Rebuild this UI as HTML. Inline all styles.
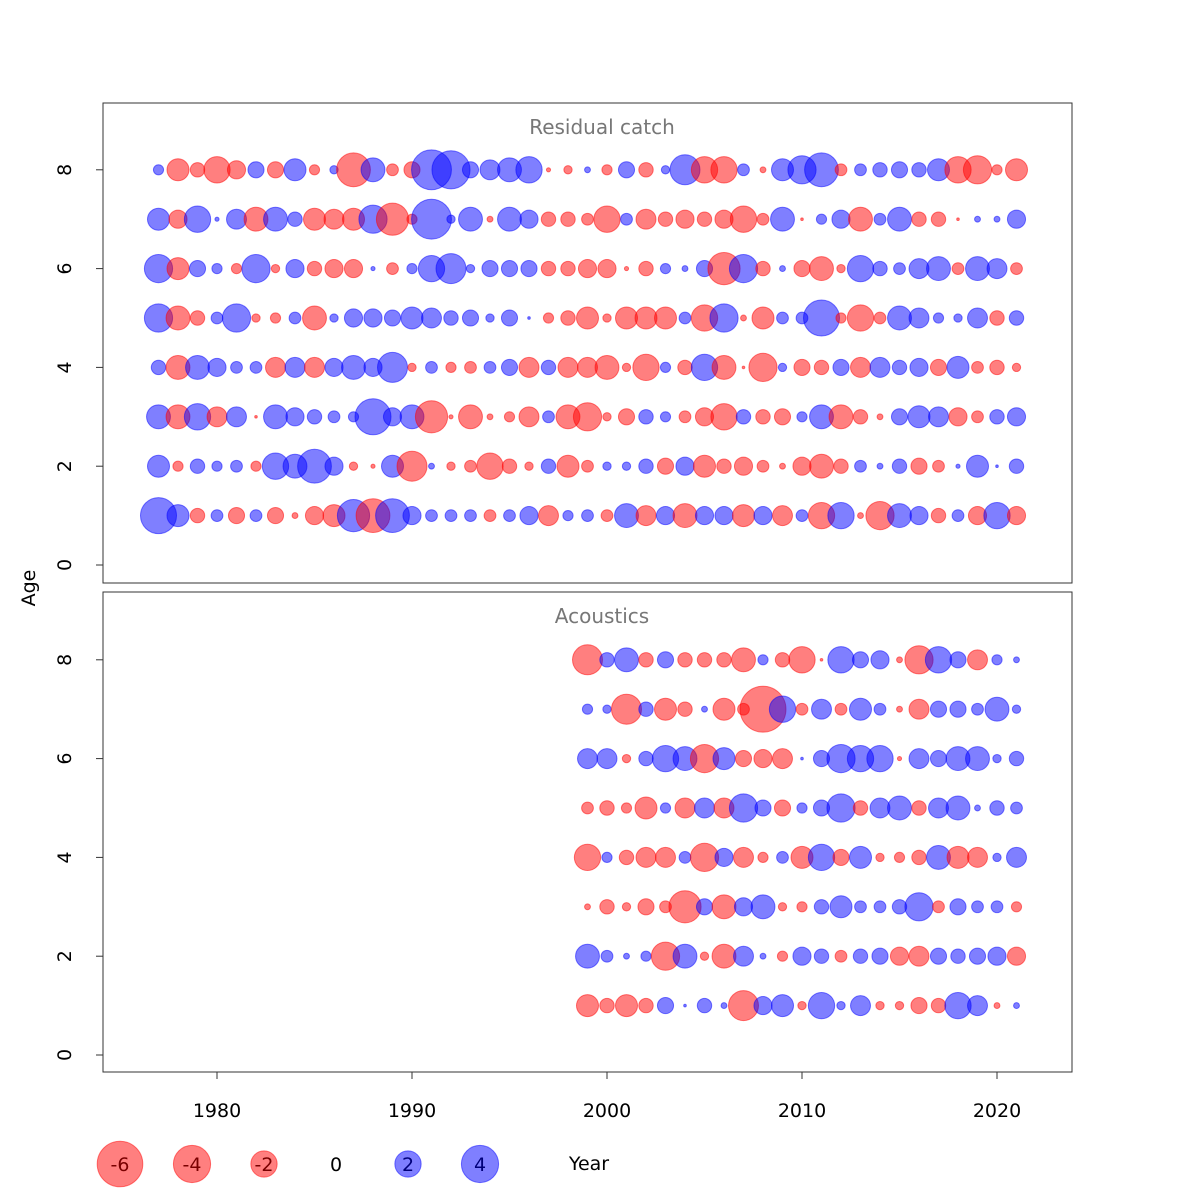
<!DOCTYPE html>
<html><head><meta charset="utf-8">
<style>
html,body{margin:0;padding:0;background:#fff;}
svg{display:block;font-family:"DejaVu Sans","Liberation Sans",sans-serif;}
</style></head>
<body>
<svg id="chart" width="1200" height="1200" viewBox="0 0 1200 1200" xmlns="http://www.w3.org/2000/svg"></svg>
<script>
// ---- data ----
const catchYears = [1977,1978,1979,1980,1981,1982,1983,1984,1985,1986,1987,1988,1989,1990,1991,1992,1993,1994,1995,1996,1997,1998,1999,2000,2001,2002,2003,2004,2005,2006,2007,2008,2009,2010,2011,2012,2013,2014,2015,2016,2017,2018,2019,2020,2021];
const acousticYears = [1999,2000,2001,2002,2003,2004,2005,2006,2007,2008,2009,2010,2011,2012,2013,2014,2015,2016,2017,2018,2019,2020,2021];
const ages = [1,2,3,4,5,6,7,8];
const yTicks = [0,2,4,6,8];
const xTicks = [1980,1990,2000,2010,2020];
const legendValues = [-6,-4,-2,0,2,4];
// catch residuals, one array per age (1..8)
const catchAge1 = [3.75,1.4,-0.6,0.4,-0.75,0.4,-0.75,-0.1,-0.95,-1.4,3,-3.3,3.3,0.95,0.4,0.4,0.4,-0.4,0.4,0.95,-1.15,0.3,0.4,-0.4,1.65,-1.15,0.95,-1.65,0.95,0.95,-1.4,0.95,-1.15,0.4,-2,2,-0.1,-2.3,1.65,0.95,-0.6,0.4,-0.95,2,-0.95];
const catchAge2 = [1.4,-0.3,0.6,0.3,0.4,-0.3,2,1.65,3.3,0.95,-0.2,-0.05,1.4,-2.6,0.1,-0.2,-0.4,-2,-0.6,-0.2,0.6,-1.4,-0.4,0.2,0.2,0.6,-0.75,0.95,-1.4,-0.6,-0.95,-0.4,-0.1,-0.95,-1.65,-0.6,0.4,0.1,0.6,-0.75,-0.4,0.05,1.4,0.02,0.6];
const catchAge3 = [1.65,-1.65,2,-1.15,1.15,-0.02,1.65,0.95,0.6,0.4,0.3,3.75,0.95,1.65,-3,-0.05,-1.65,-0.1,-0.3,-1.15,0.4,-1.65,-2.3,-0.2,-0.75,0.6,0.3,-0.4,-0.95,-2,0.6,-0.6,-0.75,0.3,1.65,-1.65,-0.6,-0.1,0.75,1.4,1.15,-0.95,-0.4,0.6,0.95];
const catchAge4 = [0.6,-1.65,1.65,0.95,0.4,0.4,-1.15,1.15,-1.15,0.95,1.65,0.95,2.6,-0.2,0.4,-0.3,-0.4,0.4,0.75,-1.15,0.6,-1.15,-1.15,-1.65,-0.2,-2,0.3,-0.6,2,-1.65,-0.02,-2.3,0.2,-0.75,-0.6,0.75,-1.15,1.15,0.6,0.95,-0.75,1.4,-0.4,-0.6,-0.2];
const catchAge5 = [2.3,-1.65,-0.6,0.4,2.3,-0.2,-0.3,0.4,-1.65,0.2,0.95,0.95,0.75,1.4,1.15,0.6,0.75,0.2,0.75,0.02,-0.3,-0.6,-1.4,-0.2,-1.4,-1.4,-1.4,0.4,-2,2.3,-0.1,-1.4,0.4,0.4,3.75,-0.3,-2,-0.4,1.65,1.15,0.3,0.2,1.15,-0.6,0.6];
const catchAge6 = [2.3,-1.4,0.75,0.3,-0.3,2.3,-0.2,0.95,-0.6,-0.95,-0.95,0.05,-0.4,0.3,2,2.6,0.2,0.75,0.75,0.75,-0.6,-0.6,-0.95,-0.95,-0.05,-0.6,0.3,0.1,0.75,-3,2.3,-0.6,0.1,-0.75,-1.65,-0.2,2,0.6,0.4,1.15,1.65,-0.4,1.65,1.15,-0.4];
const catchAge7 = [1.4,-0.95,2,0.05,1.15,-1.65,1.65,0.6,-1.4,-1.15,-1.4,2.3,-3,-0.3,4.6,0.2,1.65,-0.1,1.65,0.95,-0.6,-0.6,-0.4,-2,0.4,-1.15,-0.6,-0.95,-0.6,-0.95,-2,-0.4,1.65,-0.02,0.3,0.95,-1.65,0.4,1.65,-0.6,-0.6,-0.02,0.1,0.1,0.95];
const catchAge8 = [0.3,-1.4,-0.6,-2,-0.95,0.75,-0.75,1.4,-0.3,0.2,-3.3,1.65,-0.4,-0.75,4.6,4.2,0.75,1.15,1.65,2,-0.05,-0.2,0.1,-0.3,0.75,-0.6,0.2,2.6,-2,-2,0.4,-0.1,1.4,2.3,3.3,-0.4,0.4,0.6,0.75,0.6,1.4,-2,-2.3,-0.3,-1.4];
// acoustic residuals, one array per age (1..8)
const acAge1 = [-1.4,-0.6,-1.4,-0.6,0.75,0.02,0.6,0.1,-2.6,0.95,1.4,-0.2,2,0.2,1.15,-0.2,-0.2,-0.75,-0.6,2,1.15,-0.1,0.1];
const acAge2 = [1.65,0.4,0.1,0.3,-2.3,1.65,-0.2,-1.65,1.15,0.1,-0.3,0.95,0.6,-0.4,0.6,0.75,-0.95,-1.15,0.75,0.6,0.75,0.95,-0.95];
const acAge3 = [-0.1,-0.6,-0.2,-0.75,-0.4,-3,0.75,-1.65,0.95,1.65,-0.2,-0.3,0.6,1.4,0.4,0.4,0.6,2.3,-0.4,0.75,0.4,0.4,-0.3];
const acAge4 = [-2,0.3,-0.6,-1.15,-1.15,0.4,-2.3,0.95,-1.15,-0.3,0.4,-1.4,2,-0.75,1.4,-0.2,-0.3,-0.6,1.65,-1.4,-1.15,0.2,1.15];
const acAge5 = [-0.4,-0.6,-0.3,-1.4,0.3,-1.15,1.15,-1.15,2.3,0.75,-0.75,0.3,0.75,2.3,-0.6,1.15,1.65,-0.6,1.15,1.65,0.1,0.6,0.4];
const acAge6 = [1.15,1.15,-0.2,0.6,2,1.65,-2.3,1.4,-0.75,-0.95,-1.15,0.02,0.75,2.3,2,2,-0.05,1.15,0.75,1.65,1.65,0.2,0.6];
const acAge7 = [0.3,0.2,-2.6,0.6,-1.4,-0.6,0.1,-1.4,-0.4,-6.1,2,-0.4,1.15,-0.4,1.4,0.4,-0.1,-1.15,0.75,0.75,0.4,1.65,0.2];
const acAge8 = [-2.6,0.6,1.65,-0.6,0.75,-0.6,-0.6,-0.6,-1.65,0.3,-0.6,-2,-0.02,2,0.75,0.95,-0.1,-2.3,2,0.75,-1.15,0.3,0.1];
const catchRows = [catchAge1,catchAge2,catchAge3,catchAge4,catchAge5,catchAge6,catchAge7,catchAge8];
const acRows = [acAge1,acAge2,acAge3,acAge4,acAge5,acAge6,acAge7,acAge8];

// ---- scales ----
const NS = "http://www.w3.org/2000/svg";
const svg = document.getElementById("chart");
function xScale(yr){ return 217 + (yr - 1980) * 19.5; }
function yTop(a){ return 565 - a * 49.4; }
function yBot(a){ return 1055 - a * 49.4; }
function rScale(v){ return 9.3 * Math.sqrt(Math.abs(v)); }
function mk(tag, attrs){
  const e = document.createElementNS(NS, tag);
  for (const k in attrs) e.setAttribute(k, attrs[k]);
  svg.appendChild(e);
  return e;
}
const RED = "rgba(255,0,0,0.5)", BLUE = "rgba(0,0,255,0.5)";

function panel(top, yFn, title, name){
  const box = mk("rect", {x:103, y:top, width:969, height:480, fill:"none", stroke:"#333", "stroke-width":1});
  
  
  const t = mk("text", {x:602, y:top+31, "text-anchor":"middle", "font-size":20, fill:"#777"});
  t.textContent = title;
  
  
  yTicks.forEach(v => {
    const y = yFn(v);
    const tk = mk("line", {x1:96, x2:103, y1:y, y2:y, stroke:"#333"});
    
    
    const lb = mk("text", {x:71, y:y, "text-anchor":"middle", "font-size":19, fill:"#000", transform:`rotate(-90 71 ${y})`});
    lb.textContent = v;
    
    
  });
}
panel(103, yTop, "Residual catch", "catch-panel");
panel(592, yBot, "Acoustics", "acoustics-panel");

function bubbles(years, rows, yFn, name){
  rows.forEach((row, ai) => {
    row.forEach((v, yi) => {
      const c = mk("circle", {cx:xScale(years[yi]), cy:yFn(ages[ai]), r:rScale(v), fill: v < 0 ? RED : BLUE, stroke: v < 0 ? RED : BLUE, "stroke-width":1});
      
      
    });
  });
}
bubbles(catchYears, catchRows, yTop, 'catch-bubble');
bubbles(acousticYears, acRows, yBot, 'acoustic-bubble');

// x axis
const xl = mk("line", {x1:xScale(1980), x2:xScale(2020), y1:1072, y2:1072, stroke:"#333"});


xTicks.forEach(v => {
  const x = xScale(v);
  const tk = mk("line", {x1:x, x2:x, y1:1072, y2:1079, stroke:"#333"});
  
  
  const lb = mk("text", {x:x, y:1117, "text-anchor":"middle", "font-size":19, fill:"#000"});
  lb.textContent = v;
  
  
});
const ylab = mk("text", {x:35, y:588, "text-anchor":"middle", "font-size":19, fill:"#000", transform:"rotate(-90 35 588)"});
ylab.textContent = "Age";



// legend
legendValues.forEach((v, i) => {
  const x = 120 + i * 72;
  if (v !== 0) {
    const c = mk("circle", {cx:x, cy:1164, r:rScale(v), fill: v < 0 ? RED : BLUE, stroke: v < 0 ? RED : BLUE});
    
    
  }
  const t = mk("text", {x:x, y:1171, "text-anchor":"middle", "font-size":19, fill: v < 0 ? "#7a0000" : (v > 0 ? "#00007a" : "#000")});
  t.textContent = v;
  
  
});
const xt = mk("text", {x:589, y:1170, "text-anchor":"middle", "font-size":19, fill:"#000"});
xt.textContent = "Year";


</script>
</body></html>
